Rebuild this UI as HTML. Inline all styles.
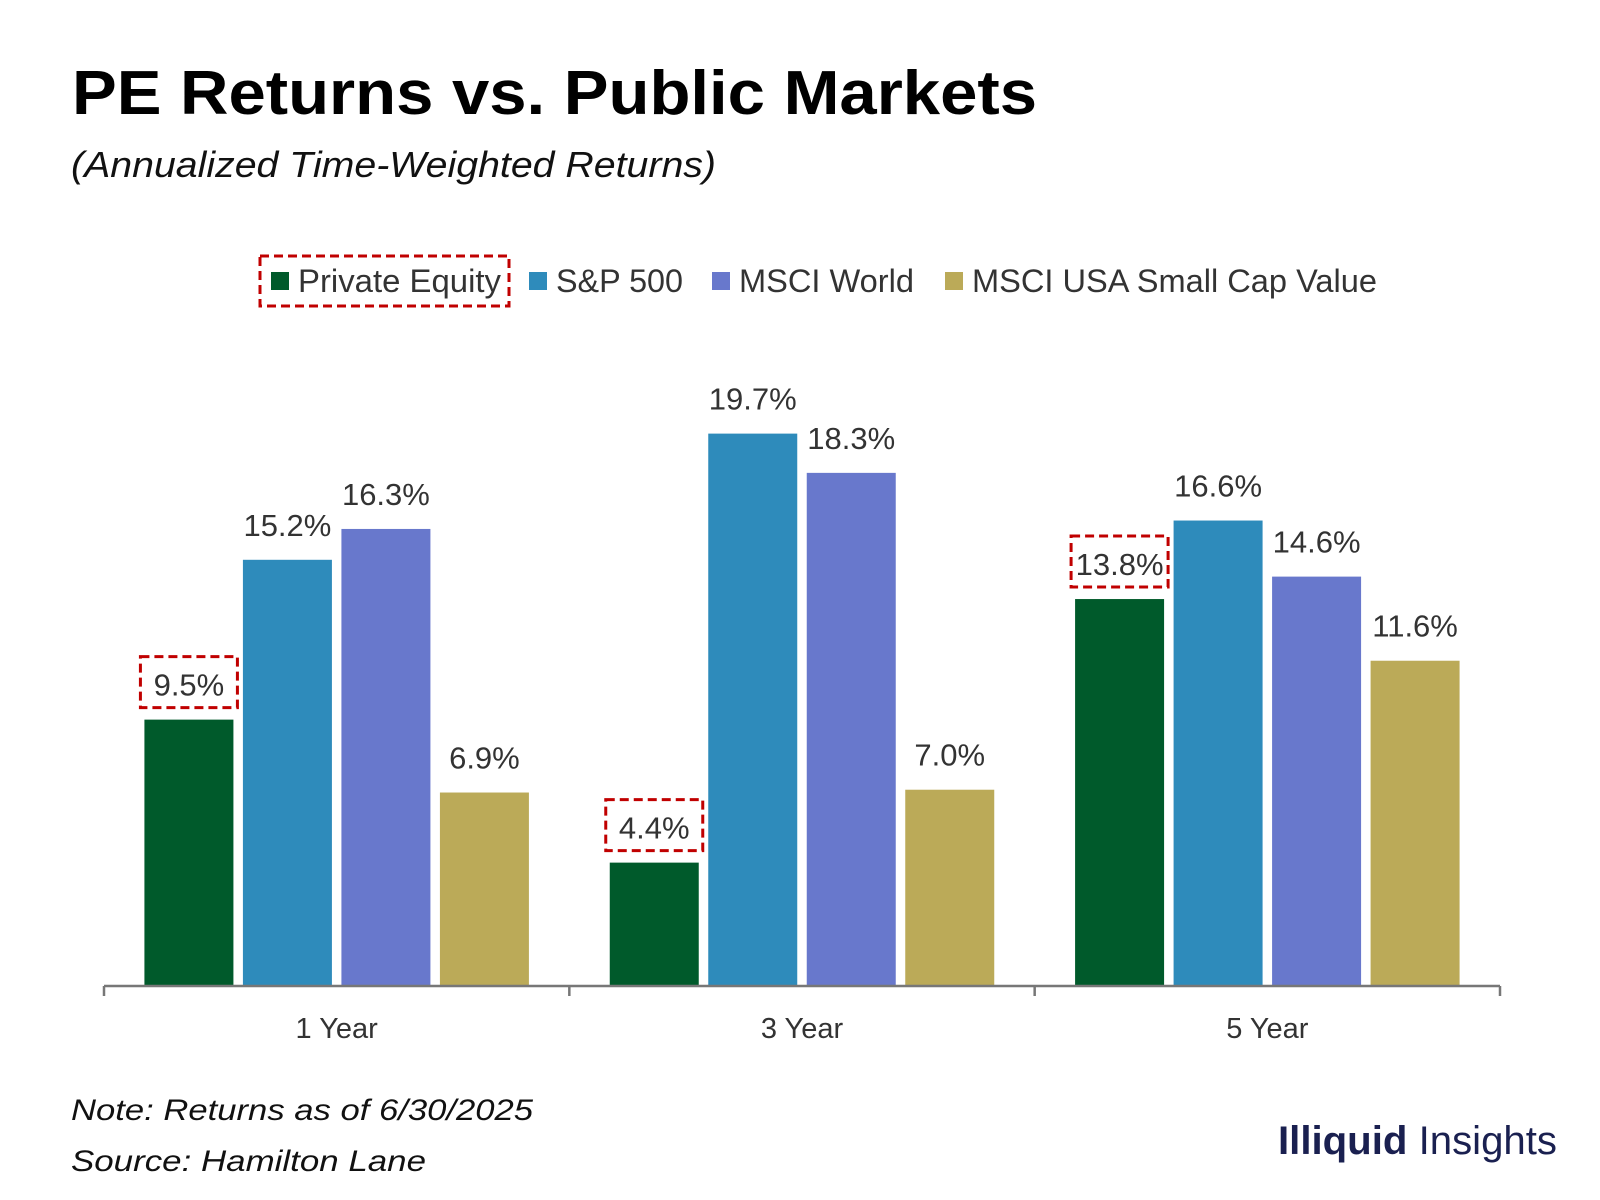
<!DOCTYPE html>
<html><head><meta charset="utf-8"><style>
body{margin:0;background:#fff;}
svg{display:block;font-family:"Liberation Sans",sans-serif;}
</style></head><body>
<svg id="chart" width="1600" height="1200" viewBox="0 0 1600 1200">
<text x="72" y="114" font-size="62" font-weight="bold" fill="#000" textLength="965" lengthAdjust="spacingAndGlyphs">PE Returns vs. Public Markets</text>
<text x="71" y="177" font-size="36" font-style="italic" fill="#111" textLength="645" lengthAdjust="spacingAndGlyphs">(Annualized Time-Weighted Returns)</text>
<g id="legend"></g>
<g id="bars"></g>
<g id="axis"></g>
<text x="71" y="1120" font-size="30" font-style="italic" fill="#111" textLength="462" lengthAdjust="spacingAndGlyphs">Note: Returns as of 6/30/2025</text>
<text x="71" y="1171" font-size="30" font-style="italic" fill="#111" textLength="355" lengthAdjust="spacingAndGlyphs">Source: Hamilton Lane</text>
<text x="1557" y="1154" font-size="40" text-anchor="end" fill="#1a2050" textLength="279" lengthAdjust="spacingAndGlyphs"><tspan font-weight="bold">Illiquid</tspan> Insights</text>
</svg>
<script>
const categories = ["1 Year", "3 Year", "5 Year"];
const seriesNames = ["Private Equity", "S&P 500", "MSCI World", "MSCI USA Small Cap Value"];
const privateEquity = [9.5, 4.4, 13.8];
const sp500 = [15.2, 19.7, 16.6];
const msciWorld = [16.3, 18.3, 14.6];
const smallCapValue = [6.9, 7.0, 11.6];
const series = [privateEquity, sp500, msciWorld, smallCapValue];
const colors = ["#005a2b", "#2e8bbb", "#6878cc", "#bbaa58"];

const NS = "http://www.w3.org/2000/svg";
const axisY = 986, pxPer = 28.04, axisL = 104, axisR = 1500;
const groupW = (axisR - axisL) / categories.length;
const barW = 89, barStep = 98.5;
function yScale(v){ return axisY - v * pxPer; }
function xBar(ci, si){ const c = axisL + groupW * (ci + 0.5); return c - (barStep * 1.5 + barW / 2) + si * barStep; }
function mk(tag, attrs, parent){ const e = document.createElementNS(NS, tag); for (const k in attrs) e.setAttribute(k, attrs[k]); parent.appendChild(e); return e; }

const bars = document.getElementById('bars');
series.forEach((vals, si) => {
  vals.forEach((v, ci) => {
    const x = xBar(ci, si), y = yScale(v);
    const r = mk('rect', {x: x, y: y, width: barW, height: axisY - y, fill: colors[si]}, bars);
    
    
    const t = mk('text', {x: x + barW / 2, y: y - 24, 'font-size': 31, 'text-anchor': 'middle', fill: '#333'}, bars);
    t.textContent = v.toFixed(1) + '%';
    
    
    if (si === 0) {
      const b = mk('rect', {x: x - 4, y: y - 63, width: 97, height: 51, fill: 'none', stroke: '#c00000', 'stroke-width': 3, 'stroke-dasharray': '9 5'}, bars);
      
      
    }
  });
});

const axis = document.getElementById('axis');
mk('line', {x1: axisL, y1: axisY, x2: axisR, y2: axisY, stroke: '#777', 'stroke-width': 2.5}, axis);
for (let i = 0; i <= categories.length; i++) {
  const x = axisL + groupW * i;
  mk('line', {x1: x, y1: axisY, x2: x, y2: axisY + 10, stroke: '#777', 'stroke-width': 2.5}, axis);
}
categories.forEach((c, ci) => {
  const t = mk('text', {x: axisL + groupW * (ci + 0.5), y: 1038, 'font-size': 29, 'text-anchor': 'middle', fill: '#333'}, axis);
  t.textContent = c;
  
  
});

const legend = document.getElementById('legend');
const lx = [271, 529, 712, 945];
const lw = [203, 127, 175, 405];
seriesNames.forEach((n, i) => {
  const g = mk('g', {}, legend);
  
  
  mk('rect', {x: lx[i], y: 272, width: 18, height: 18, fill: colors[i]}, g);
  const t = mk('text', {x: lx[i] + 27, y: 292, 'font-size': 32, fill: '#333', textLength: lw[i], lengthAdjust: 'spacingAndGlyphs'}, g);
  t.textContent = n;
});
const lb = mk('rect', {x: 260, y: 256, width: 249, height: 50, fill: 'none', stroke: '#c00000', 'stroke-width': 3, 'stroke-dasharray': '9 5'}, legend);


</script>
</body></html>
